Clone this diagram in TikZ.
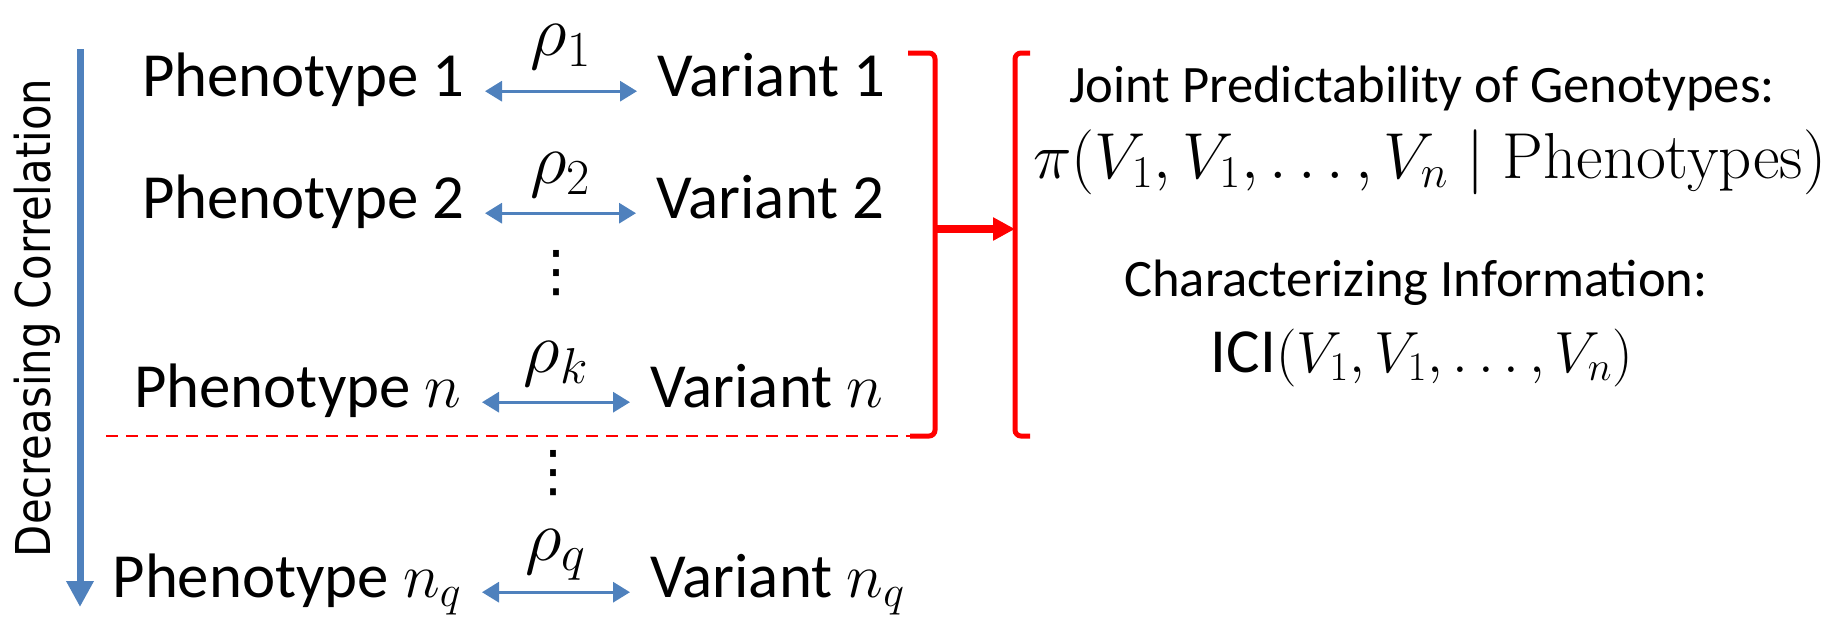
\RequirePackage{fix-cm}
\documentclass[tikz,border=0pt]{standalone}
\usepackage[no-math]{fontspec}
\setmainfont{Carlito}
\newfontfamily\sidefont[FakeStretch=0.87]{DejaVu Sans}
\newfontfamily\symfont{DejaVu Sans}
\usetikzlibrary{arrows.meta}

\definecolor{corrblue}{HTML}{4F81BD}
\definecolor{groupred}{HTML}{FF0000}

\tikzstyle{pair} = [font=\fontsize{31.4}{37}\selectfont, inner xsep=10pt, inner ysep=0pt, text height=0.7em, text depth=0.22em]
\tikzstyle{rho} = [font=\fontsize{36}{42}\selectfont, inner sep=0pt]
\tikzstyle{gap} = [font=\symfont\fontsize{28}{32}\selectfont, inner sep=0pt]
\tikzstyle{link} = [draw=corrblue, line width=1.6pt, {Triangle[length=8.5pt,width=10pt]}-{Triangle[length=8.5pt,width=10pt]}]
\tikzstyle{trend} = [draw=corrblue, line width=3.5pt, -{Triangle[length=13pt,width=13pt]}]
\tikzstyle{bracket} = [draw=groupred, line width=2.5pt, rounded corners=3pt]
\tikzstyle{merge} = [draw=groupred, line width=4pt, -{Triangle[length=11pt,width=11pt]}]
\tikzstyle{cutline} = [draw=groupred, line width=0.8pt, dash pattern=on 6pt off 4pt]
\tikzstyle{info} = [font=\fontsize{26.3}{32}\selectfont, inner sep=0pt]
\tikzstyle{formula} = [font=\fontsize{32.5}{38}\selectfont, inner sep=0pt]

\begin{document}
\begin{tikzpicture}[x=0.5pt, y=-0.5pt]
\useasboundingbox (0,0) rectangle (1836,616);

\node[font=\sidefont\fontsize{24}{28}\selectfont, rotate=90, anchor=base, inner sep=0pt] (declab) at (50,318) {Decreasing Correlation};
\coordinate (corrtop) at (80,49);
\coordinate (corrbot) at (80,607);
\draw[trend] (corrtop) -- (corrbot);

\node[pair, anchor=base east] (p1) at (485,96) {Phenotype 1};
\node[pair, anchor=base west] (v1) at (637,96) {Variant 1};
\draw[link] (p1) -- node[rho, above=10pt] {$\rho_1$} (v1);

\node[pair, anchor=base east] (p2) at (485,218) {Phenotype 2};
\node[pair, anchor=base west] (v2) at (636,218) {Variant 2};
\draw[link] (p2) -- node[rho, above=7pt] {$\rho_2$} (v2);

\node[gap] (gap1) at (556,273) {⋮};

\node[pair, anchor=base east] (pn) at (482,407) {Phenotype $n$};
\node[pair, anchor=base west] (vn) at (630,407) {Variant $n$};
\draw[link] (pn) -- node[rho, above=7pt] {$\rho_k$} (vn);

\coordinate (cutL) at (106,436);
\coordinate (cutR) at (910,436);
\draw[cutline] (cutL) -- (cutR);

\node[gap] (gap2) at (553,473) {⋮};

\node[pair, anchor=base east] (pq) at (482,597) {Phenotype $n_q$};
\node[pair, anchor=base west] (vq) at (630,597) {Variant $n_q$};
\draw[link] (pq) -- node[rho, above=5pt] {$\rho_q$} (vq);

\draw[bracket] (908,53) -- (935,53) -- (935,436) -- (910,436);
\draw[bracket] (1030,53) -- (1015,53) -- (1015,436) -- (1030,436);
\coordinate (rbmid) at (935,229);
\coordinate (lbmid) at (1015,229);
\draw[merge] (rbmid) -- (lbmid);

\node[info, anchor=base] (joint) at (1422,102) {Joint Predictability of Genotypes:};
\node[formula, anchor=base] (piexpr) at (1430,178) {$\pi(V_1, V_1, \ldots, V_n \mid \mathrm{Phenotypes})$};
\node[info, anchor=base] (charinfo) at (1416,296) {Characterizing Information:};
\node[font=\fontsize{29}{34}\selectfont, inner sep=0pt, anchor=base] (iciexpr) at (1422,372) {{\fontsize{31.4}{37}\selectfont ICI}$(V_1, V_1, \ldots, V_n)$};
\end{tikzpicture}
\end{document}
